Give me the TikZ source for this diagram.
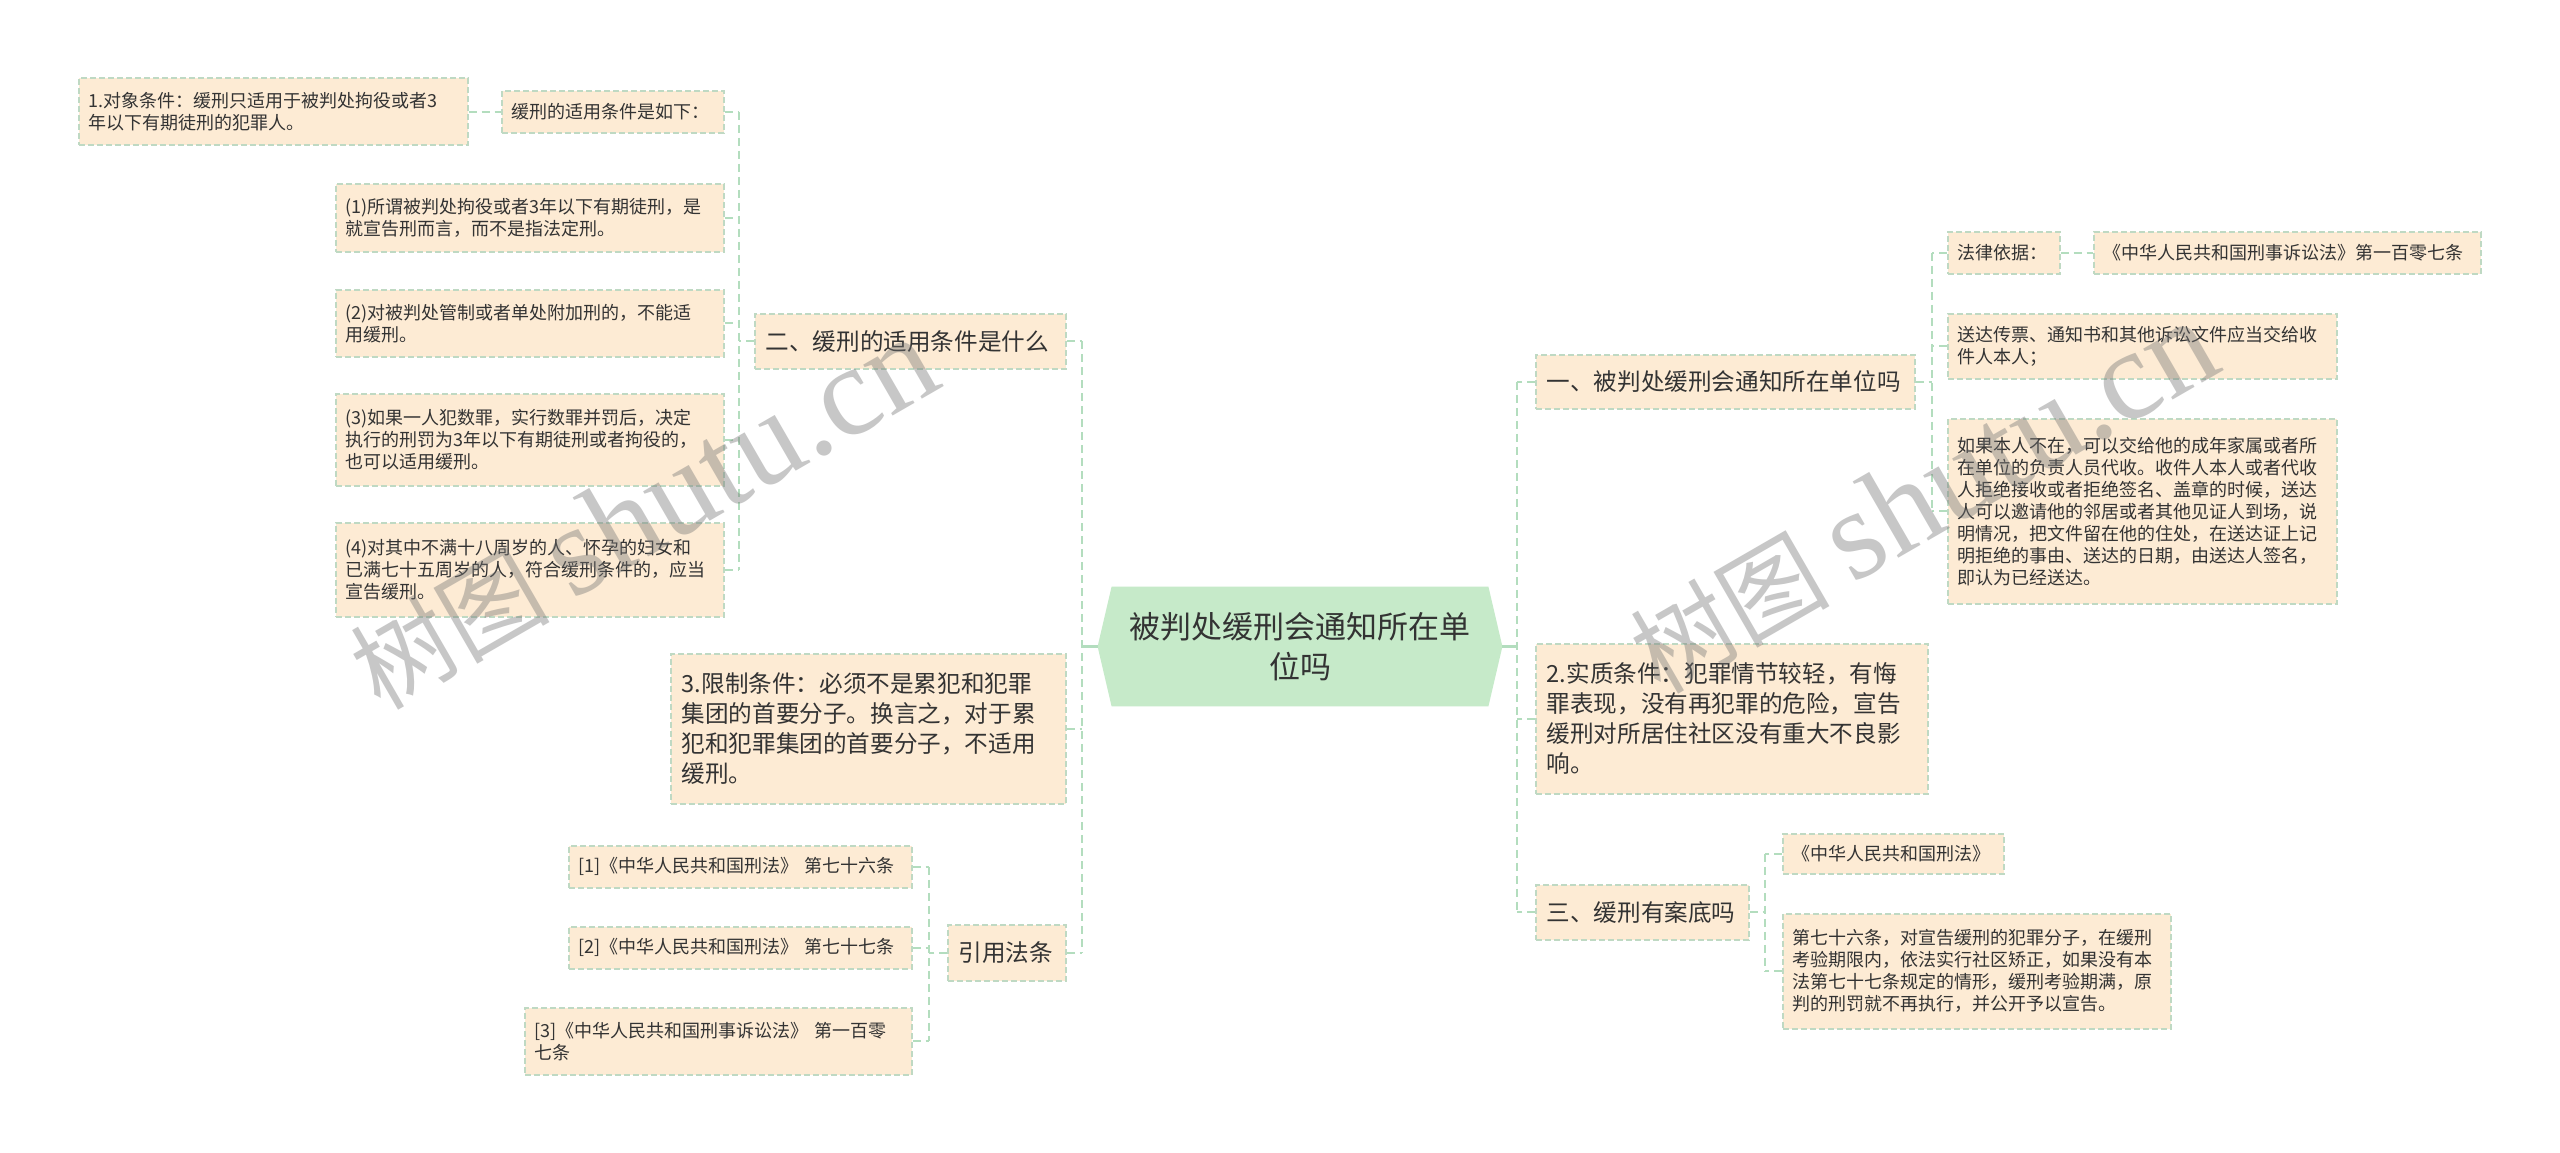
\documentclass[tikz,border=0pt]{standalone}
\usepackage{fontspec}
\setmainfont{Noto Sans CJK SC}
\newfontfamily\wmlatin{Liberation Serif}
\usetikzlibrary{backgrounds}
\definecolor{peach}{HTML}{FDEBD4}
\definecolor{boxline}{HTML}{BFD9C3}
\definecolor{conncol}{HTML}{B3DDBE}
\definecolor{rootfill}{HTML}{C6EAC9}
\definecolor{txt}{HTML}{333333}
\tikzset{
  box/.style={draw=boxline, fill=peach, line width=0.75pt, dash pattern=on 3pt off 1.5pt,
    text=txt, anchor=north west, align=left, inner ysep=0pt},
  leaf/.style={box, inner xsep=5pt, font=\fontsize{9}{11}\selectfont},
  branch/.style={box, inner xsep=5.5pt, font=\fontsize{11.8}{15}\selectfont},
  rootnode/.style={text=txt, align=center, inner sep=0pt, font=\fontsize{15.5}{20}\selectfont},
  conn/.style={draw=conncol, line width=1pt, dash pattern=on 4pt off 2.5pt},
  rootconn/.style={draw=conncol, line width=1.5pt},
  wm/.style={text=black!55, text opacity=0.4, rotate=30, anchor=base west, inner sep=0pt}
}
\begin{document}
\begin{tikzpicture}[x=0.5pt,y=-0.5pt]
\useasboundingbox (0,0) rectangle (2560,1152);

% ---- root ----
\node[rootnode, minimum width=202pt, minimum height=59.5pt] (root) at (1300,646.5)
  {被判处缓刑会通知所在单\\位吗};
\begin{scope}[on background layer]
\fill[white] (0,0) rectangle (2560,1152);
\fill[rootfill] (root.west) -- ([xshift=7pt]root.north west) -- ([xshift=-7pt]root.north east)
  -- (root.east) -- ([xshift=-7pt]root.south east) -- ([xshift=7pt]root.south west) -- cycle;
\end{scope}

% ---- left branches ----
\node[branch, minimum width=155.5pt, minimum height=27.5pt, text width=144.5pt] (L1) at (754,313)
  {二、缓刑的适用条件是什么};
\node[branch, minimum width=197.5pt, minimum height=75pt, text width=186.5pt] (L2) at (670,653)
  {3.限制条件：必须不是累犯和犯罪\\集团的首要分子。换言之，对于累\\犯和犯罪集团的首要分子，不适用\\缓刑。};
\node[branch, minimum width=59pt, minimum height=28pt, text width=48pt] (L3) at (947,924)
  {引用法条};

\node[leaf, minimum width=194.5pt, minimum height=33.5pt, text width=184.5pt] (A0) at (78,77)
  {1.对象条件：缓刑只适用于被判处拘役或者3\\年以下有期徒刑的犯罪人。};
\node[leaf, minimum width=111pt, minimum height=21pt, text width=101pt] (A1) at (501,90)
  {缓刑的适用条件是如下：};
\node[leaf, minimum width=194pt, minimum height=34pt, text width=184pt] (A2) at (335,183)
  {(1)所谓被判处拘役或者3年以下有期徒刑，是\\就宣告刑而言，而不是指法定刑。};
\node[leaf, minimum width=194pt, minimum height=33.5pt, text width=184pt] (A3) at (335,289)
  {(2)对被判处管制或者单处附加刑的，不能适\\用缓刑。};
\node[leaf, minimum width=194pt, minimum height=46pt, text width=184pt] (A4) at (335,393)
  {(3)如果一人犯数罪，实行数罪并罚后，决定\\执行的刑罚为3年以下有期徒刑或者拘役的，\\也可以适用缓刑。};
\node[leaf, minimum width=194pt, minimum height=47pt, text width=184pt] (A5) at (335,522)
  {(4)对其中不满十八周岁的人、怀孕的妇女和\\已满七十五周岁的人，符合缓刑条件的，应当\\宣告缓刑。};

\node[leaf, minimum width=171.5pt, minimum height=21pt, text width=161.5pt] (C1) at (568,845)
  {[1]《中华人民共和国刑法》~第七十六条};
\node[leaf, minimum width=171.5pt, minimum height=21pt, text width=161.5pt] (C2) at (568,926)
  {[2]《中华人民共和国刑法》~第七十七条};
\node[leaf, minimum width=193.5pt, minimum height=33.5pt, text width=183.5pt] (C3) at (524,1007)
  {[3]《中华人民共和国刑事诉讼法》~第一百零\\七条};

% ---- right branches ----
\node[branch, minimum width=189.5pt, minimum height=27pt, text width=178.5pt] (R1) at (1535,354)
  {一、被判处缓刑会通知所在单位吗};
\node[branch, minimum width=196pt, minimum height=75pt, text width=185pt] (R2) at (1535,643)
  {2.实质条件：犯罪情节较轻，有悔\\罪表现，没有再犯罪的危险，宣告\\缓刑对所居住社区没有重大不良影\\响。};
\node[branch, minimum width=106.5pt, minimum height=27.5pt, text width=95.5pt] (R3) at (1535,884)
  {三、缓刑有案底吗};

\node[leaf, minimum width=56pt, minimum height=21pt, text width=46pt] (B1) at (1947,231)
  {法律依据：};
\node[leaf, minimum width=193.5pt, minimum height=21pt, text width=183.5pt] (B1b) at (2093,231)
  {《中华人民共和国刑事诉讼法》第一百零七条};
\node[leaf, minimum width=194.5pt, minimum height=32.5pt, text width=184.5pt] (B2) at (1947,313)
  {送达传票、通知书和其他诉讼文件应当交给收\\件人本人；};
\node[leaf, minimum width=194.5pt, minimum height=92.5pt, text width=184.5pt] (B3) at (1947,418)
  {如果本人不在，可以交给他的成年家属或者所\\在单位的负责人员代收。收件人本人或者代收\\人拒绝接收或者拒绝签名、盖章的时候，送达\\人可以邀请他的邻居或者其他见证人到场，说\\明情况，把文件留在他的住处，在送达证上记\\明拒绝的事由、送达的日期，由送达人签名，\\即认为已经送达。};
\node[leaf, minimum width=110.5pt, minimum height=20pt, text width=100.5pt] (D1) at (1782,833)
  {《中华人民共和国刑法》};
\node[leaf, minimum width=194pt, minimum height=57.5pt, text width=184pt] (D2) at (1782,913)
  {第七十六条，对宣告缓刑的犯罪分子，在缓刑\\考验期限内，依法实行社区矫正，如果没有本\\法第七十七条规定的情形，缓刑考验期满，原\\判的刑罚就不再执行，并公开予以宣告。};

% ---- trunk coordinates ----
\coordinate (tl) at (1082,0);
\coordinate (ta) at (739,0);
\coordinate (tc) at (929,0);
\coordinate (tr) at (1517,0);
\coordinate (tb) at (1932,0);
\coordinate (td) at (1765,0);

% ---- connectors ----
\draw[rootconn] (root.west) -- (root.west -| tl);
\draw[rootconn] (root.east) -- (root.east -| tr);

\draw[conn] (L1.east -| tl) -- (L3.east -| tl);
\draw[conn] (L1.east) -- (L1.east -| tl);
\draw[conn] (L2.east) -- (L2.east -| tl);
\draw[conn] (L3.east) -- (L3.east -| tl);

\draw[conn] (A1.east -| ta) -- (A5.east -| ta);
\draw[conn] (L1.west) -- (L1.west -| ta);
\draw[conn] (A1.east) -- (A1.east -| ta);
\draw[conn] (A2.east) -- (A2.east -| ta);
\draw[conn] (A3.east) -- (A3.east -| ta);
\draw[conn] (A4.east) -- (A4.east -| ta);
\draw[conn] (A5.east) -- (A5.east -| ta);
\draw[conn] (A0.east |- A1.west) -- (A1.west);

\draw[conn] (C1.east -| tc) -- (C3.east -| tc);
\draw[conn] (L3.west) -- (L3.west -| tc);
\draw[conn] (C1.east) -- (C1.east -| tc);
\draw[conn] (C2.east) -- (C2.east -| tc);
\draw[conn] (C3.east) -- (C3.east -| tc);

\draw[conn] (R1.west -| tr) -- (R3.west -| tr);
\draw[conn] (R1.west) -- (R1.west -| tr);
\draw[conn] (R2.west) -- (R2.west -| tr);
\draw[conn] (R3.west) -- (R3.west -| tr);

\draw[conn] (B1.west -| tb) -- (B3.west -| tb);
\draw[conn] (R1.east) -- (R1.east -| tb);
\draw[conn] (B1.west) -- (B1.west -| tb);
\draw[conn] (B2.west) -- (B2.west -| tb);
\draw[conn] (B3.west) -- (B3.west -| tb);
\draw[conn] (B1.east) -- (B1b.west);

\draw[conn] (D1.west -| td) -- (D2.west -| td);
\draw[conn] (R3.east) -- (R3.east -| td);
\draw[conn] (D1.west) -- (D1.west -| td);
\draw[conn] (D2.west) -- (D2.west -| td);

% ---- watermarks ----
\node[wm] (wm1) at (380,712) {\fontsize{50}{50}\selectfont 树图 {\wmlatin\fontsize{64}{64}\selectfont shutu.cn}};
\node[wm] (wm2) at (1660,696) {\fontsize{50}{50}\selectfont 树图 {\wmlatin\fontsize{64}{64}\selectfont shutu.cn}};
\end{tikzpicture}
\end{document}
